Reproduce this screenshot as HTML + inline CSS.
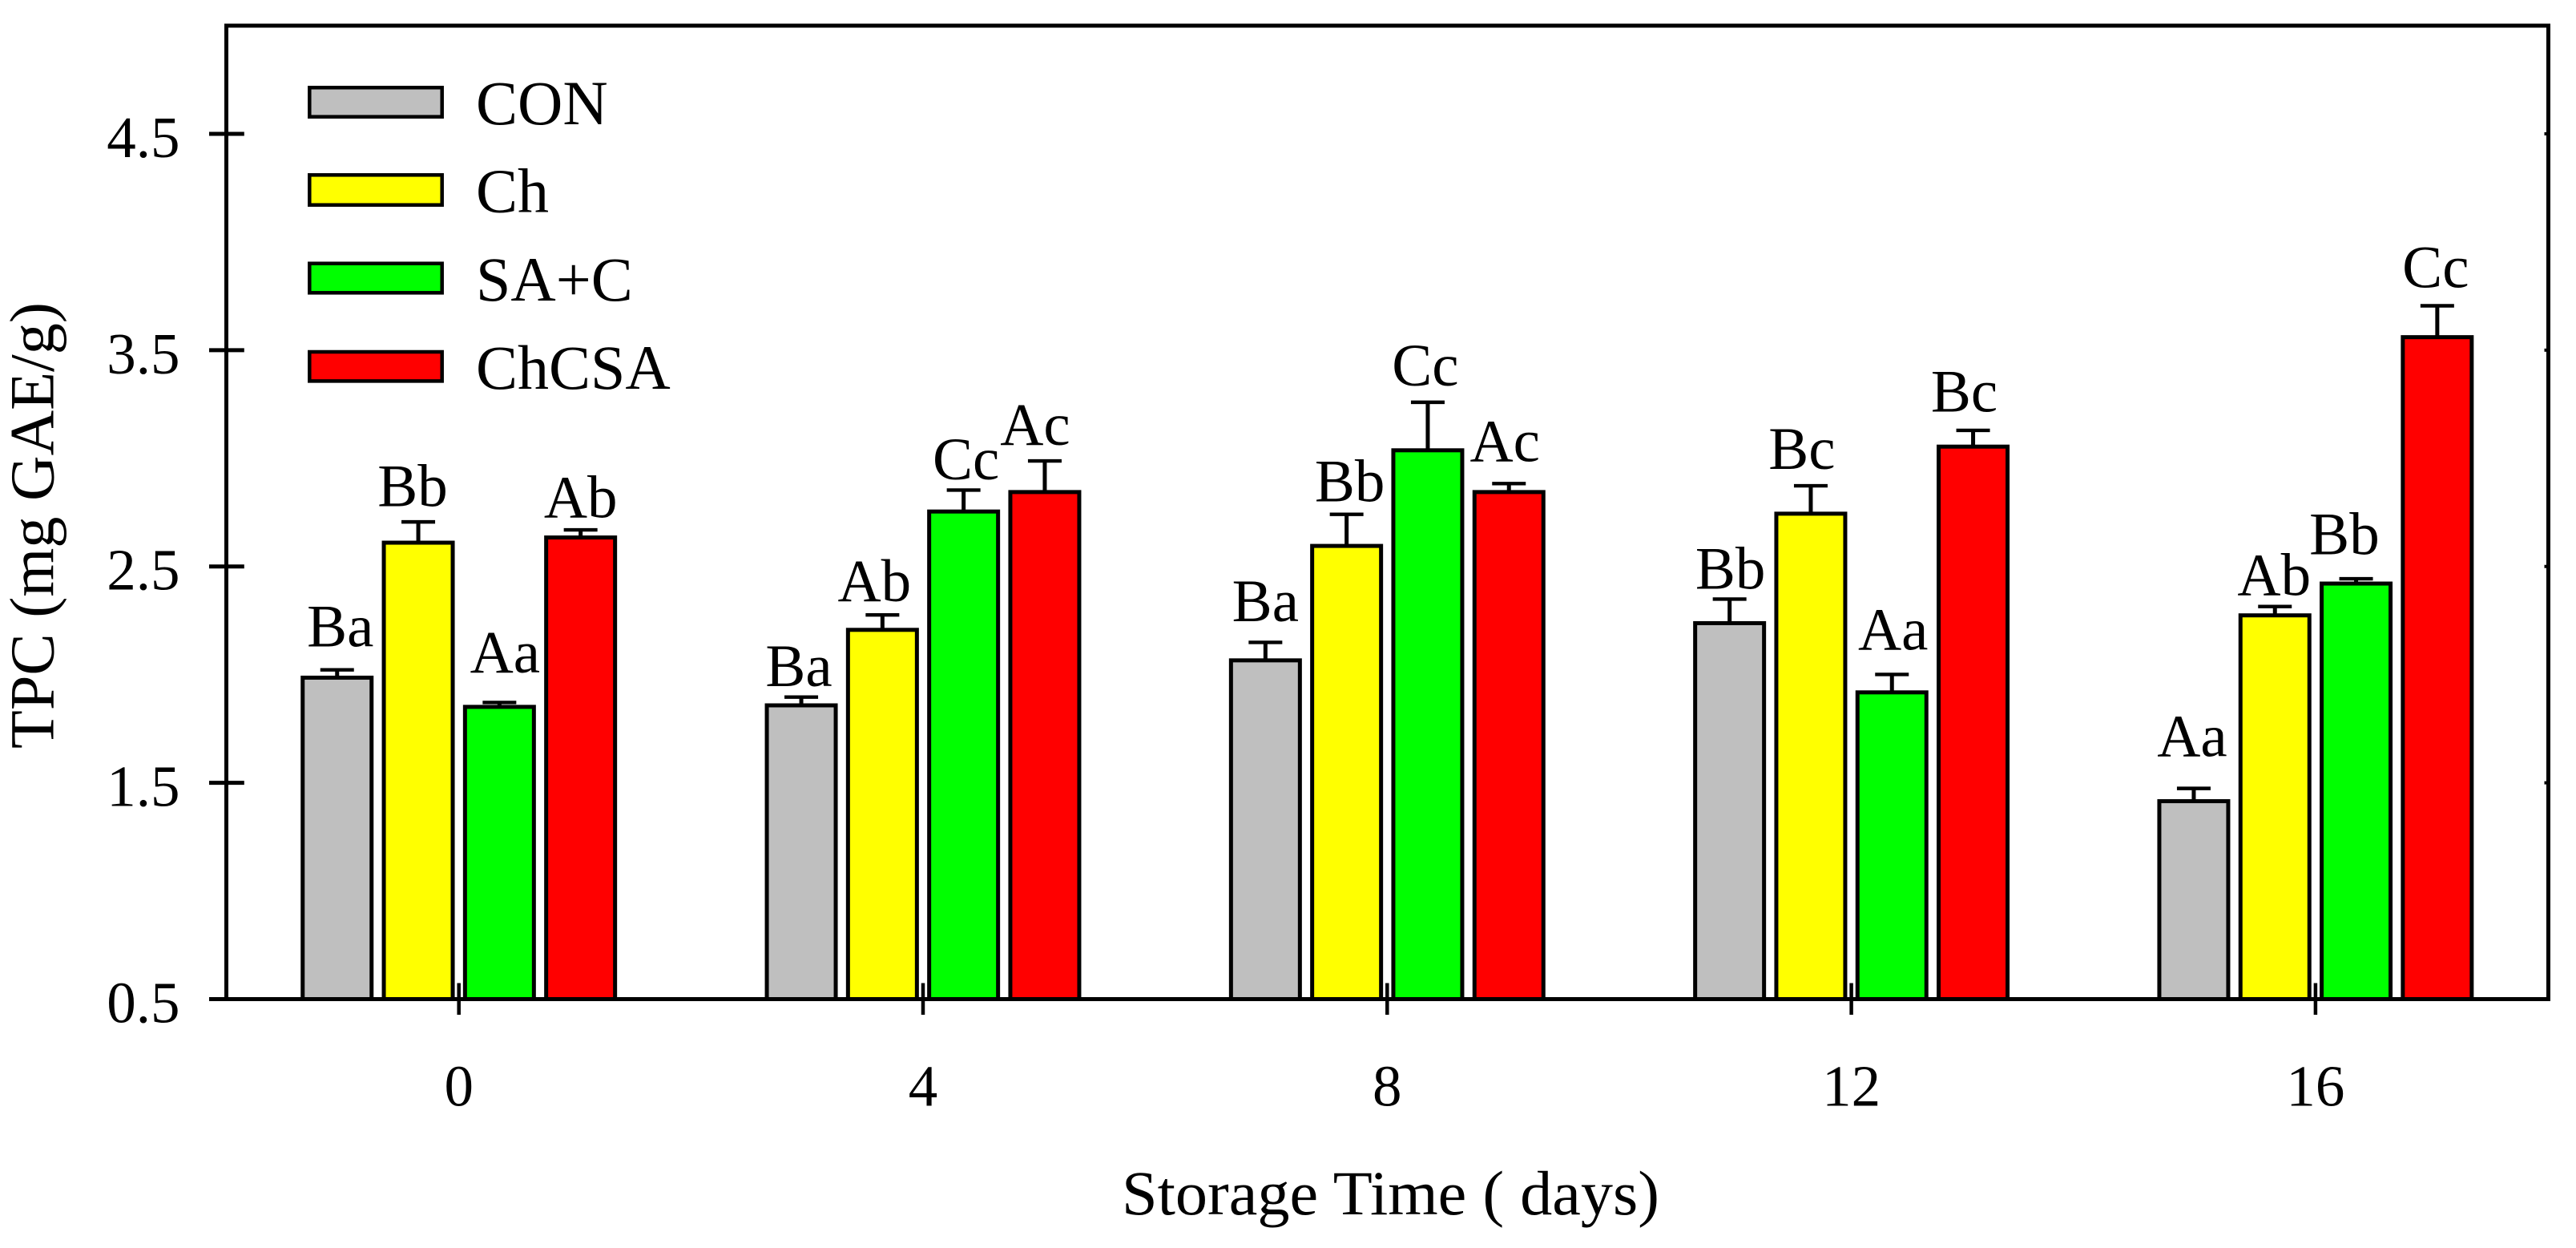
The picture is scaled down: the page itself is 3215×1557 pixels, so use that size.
<!DOCTYPE html>
<html lang="en">
<head>
<meta charset="utf-8">
<title>TPC over storage time</title>
<style>
html,body{margin:0;padding:0;background:#fff;width:3215px;height:1557px;overflow:hidden}
svg{display:block}
text{font-family:"Liberation Serif",serif;fill:#000}
.ltr{font-size:75px;text-anchor:middle}
.leg{font-size:78px}
</style>
</head>
<body>
<svg id="chart" width="3215" height="1557" viewBox="0 0 3215 1557" xmlns="http://www.w3.org/2000/svg">
<rect width="3215" height="1557" fill="#fff"/>
<g id="bars"></g>
<g id="axes">
<rect x="282.5" y="32" width="2898" height="1214.5" fill="none" stroke="#000" stroke-width="5"/>
</g>
<g id="letters">
<text class="ltr" dx="4" dy="-29">Ba</text>
<text class="ltr" dx="-7" dy="-19.4">Bb</text>
<text class="ltr" dx="7" dy="-37.7">Aa</text>
<text class="ltr" dx="0" dy="-15.6">Ab</text>
<text class="ltr" dx="-3" dy="-13.7">Ba</text>
<text class="ltr" dx="-10" dy="-17.2">Ab</text>
<text class="ltr" dx="3" dy="-13.3">Cc</text>
<text class="ltr" dx="-12" dy="-20">Ac</text>
<text class="ltr" dx="0" dy="-26.4">Ba</text>
<text class="ltr" dx="4" dy="-16">Bb</text>
<text class="ltr" dx="-3" dy="-21">Cc</text>
<text class="ltr" dx="-5" dy="-28">Ac</text>
<text class="ltr" dx="1" dy="-13">Bb</text>
<text class="ltr" dx="-11" dy="-21">Bc</text>
<text class="ltr" dx="1.5" dy="-31">Aa</text>
<text class="ltr" dx="-11" dy="-23.6">Bc</text>
<text class="ltr" dx="-2" dy="-40">Aa</text>
<text class="ltr" dx="-1" dy="-14.3">Ab</text>
<text class="ltr" dx="-14.6" dy="-30.7">Bb</text>
<text class="ltr" dx="-2" dy="-23">Cc</text>
</g>
<g>
<g>
<rect x="386.3" y="109.3" width="165.4" height="36.4" fill="#BFBFBF" stroke="#000" stroke-width="4.5"/>
<text class="leg" x="594" y="155">CON</text>
</g>
<g>
<rect x="386.3" y="218.3" width="165.4" height="37.4" fill="#FFFF00" stroke="#000" stroke-width="4.5"/>
<text class="leg" x="594" y="264.5">Ch</text>
</g>
<g>
<rect x="386.3" y="328.7" width="165.4" height="36.6" fill="#00FF00" stroke="#000" stroke-width="4.5"/>
<text class="leg" x="594" y="375">SA+C</text>
</g>
<g>
<rect x="386.3" y="439" width="165.4" height="36.4" fill="#FF0000" stroke="#000" stroke-width="4.5"/>
<text class="leg" x="594" y="485">ChCSA</text>
</g>
</g>
<text x="1400" y="1515" font-size="78" textLength="671" lengthAdjust="spacingAndGlyphs">Storage Time ( days)</text>
<text transform="translate(66.7 934) rotate(-90)" x="0" y="0" font-size="78" textLength="557" lengthAdjust="spacingAndGlyphs">TPC (mg GAE/g)</text>
</svg>
<script>
const days = [0, 4, 8, 12, 16];
const yTickValues = [0.5, 1.5, 2.5, 3.5, 4.5];
const yTickLabels = ["0.5", "1.5", "2.5", "3.5", "4.5"];
const xTickLabels = ["0", "4", "8", "12", "16"];
const seriesNames = ["con", "ch", "sac", "chcsa"];
const seriesColors = ["#BFBFBF", "#FFFF00", "#00FF00", "#FF0000"];
const conValues = [1.986, 1.858, 2.066, 2.238, 1.415];
const chValues = [2.610, 2.207, 2.595, 2.744, 2.274];
const sacValues = [1.851, 2.754, 3.037, 1.918, 2.421];
const chcsaValues = [2.634, 2.844, 2.844, 3.054, 3.560];
const conErrors = [0.036, 0.038, 0.083, 0.111, 0.059];
const chErrors = [0.096, 0.069, 0.146, 0.129, 0.041];
const sacErrors = [0.020, 0.099, 0.222, 0.083, 0.022];
const chcsaErrors = [0.035, 0.144, 0.039, 0.075, 0.145];

const seriesValues = [conValues, chValues, sacValues, chcsaValues];
const seriesErrors = [conErrors, chErrors, sacErrors, chcsaErrors];

const NS = "http://www.w3.org/2000/svg";
const yMin = 0.5, yMax = 5.0;
const plotTop = 32, plotBottom = 1246.5, plotLeft = 282.5, plotRight = 3180.5;
const xZero = 572.7, xPerDay = 144.825;
const barStep = 101.3, barWidth = 86, capHalf = 21;
const lw = 5;

function yScale(v) { return plotBottom - (v - yMin) / (yMax - yMin) * (plotBottom - plotTop); }
function xScale(d) { return xZero + d * xPerDay; }
function barCenter(dayIndex, seriesIndex) { return xScale(days[dayIndex]) + (seriesIndex - 1.5) * barStep; }

function make(tag, attrs) {
  const el = document.createElementNS(NS, tag);
  for (const k in attrs) el.setAttribute(k, attrs[k]);
  return el;
}

const barsGroup = document.getElementById("bars");
const axesGroup = document.getElementById("axes");
const letterNodes = document.querySelectorAll("#letters text");

days.forEach(function (day, i) {
  seriesValues.forEach(function (values, s) {
    const cx = barCenter(i, s);
    const top = yScale(values[i]);
    const capY = yScale(values[i] + seriesErrors[s][i]);

    const stem = make("line", { x1: cx, x2: cx, y1: top, y2: capY, stroke: "#000", "stroke-width": 5 });
    
    
    barsGroup.appendChild(stem);

    const cap = make("line", { x1: cx - capHalf, x2: cx + capHalf, y1: capY, y2: capY, stroke: "#000", "stroke-width": 4.4 });
    
    
    barsGroup.appendChild(cap);

    const bar = make("rect", { x: cx - barWidth / 2, y: top, width: barWidth, height: plotBottom - top, fill: seriesColors[s], stroke: "#000", "stroke-width": lw });
    
    
    barsGroup.appendChild(bar);

    const letter = letterNodes[i * seriesValues.length + s];
    letter.setAttribute("x", cx);
    letter.setAttribute("y", capY);
  });
});

yTickValues.forEach(function (v, i) {
  const y = yScale(v);
  const tick = make("line", { x1: 261, x2: i === 0 ? plotLeft : 304.8, y1: y, y2: y, stroke: "#000", "stroke-width": lw });
  
  
  axesGroup.appendChild(tick);

  const nub = make("line", { x1: plotRight - 5, x2: plotRight, y1: y, y2: y, stroke: "#000", "stroke-width": 4 });
  
  
  axesGroup.appendChild(nub);

  const label = make("text", { x: 224.5, y: y + 29, "font-size": 73, "text-anchor": "end" });
  
  
  label.textContent = yTickLabels[i];
  axesGroup.appendChild(label);
});

days.forEach(function (day, i) {
  const x = xScale(day);
  const tick = make("line", { x1: x, x2: x, y1: plotBottom - 20, y2: plotBottom + 19.5, stroke: "#000", "stroke-width": 4.5 });
  
  
  axesGroup.appendChild(tick);

  const label = make("text", { x: x, y: 1379.3, "font-size": 73, "text-anchor": "middle" });
  
  
  label.textContent = xTickLabels[i];
  axesGroup.appendChild(label);
});
</script>
</body>
</html>
